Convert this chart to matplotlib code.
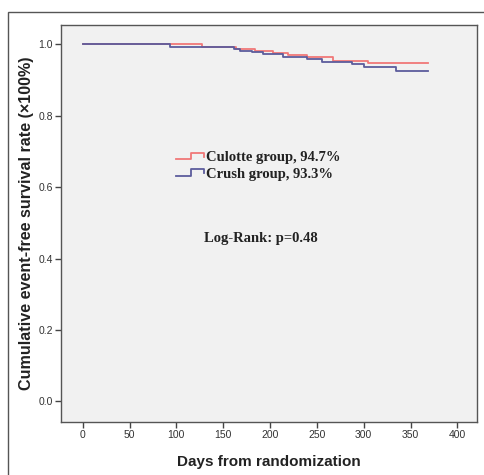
import matplotlib
matplotlib.use("Agg")
import matplotlib.pyplot as plt
from matplotlib.lines import Line2D
from matplotlib.legend_handler import HandlerBase
from matplotlib.patches import Rectangle

# ---- data ----
culotte_days = [0, 127, 164, 173, 184, 203, 219, 240, 267, 305, 369]
culotte_surv = [1.0, 0.994, 0.988, 0.986, 0.982, 0.976, 0.971, 0.965, 0.955, 0.947, 0.947]
crush_days = [0, 93, 161, 168, 181, 193, 214, 240, 255, 287, 300, 334, 369]
crush_surv = [1.0, 0.993, 0.987, 0.983, 0.979, 0.973, 0.966, 0.958, 0.951, 0.944, 0.936, 0.927, 0.927]
series_labels = ["Culotte group, 94.7%", "Crush group, 93.3%"]
x_ticks = [0, 50, 100, 150, 200, 250, 300, 350, 400]
y_ticks = [0.0, 0.2, 0.4, 0.6, 0.8, 1.0]
x_label = "Days from randomization"
y_label = "Cumulative event-free survival rate (\u00d7100%)"
annotation = "Log-Rank: p=0.48"

RED = "#f07878"
BLUE = "#5c5c9c"

W, H = 485, 475
fig = plt.figure(figsize=(W / 100, H / 100), dpi=100)
fig.patch.set_facecolor("white")

# outer frame
fig.patches.append(Rectangle((8 / W, -0.1), 1.2, 1 - 12 / H + 0.1, transform=fig.transFigure,
                             fill=False, edgecolor="#555555", linewidth=1.0))

ax = fig.add_axes([61 / W, 1 - 421.7 / H, (477 - 61) / W, (421.7 - 25) / H])
ax.set_facecolor("#f1f1f1")

ax.step(culotte_days, culotte_surv, where="post", color=RED, lw=1.3, label=series_labels[0])
ax.step(crush_days, crush_surv, where="post", color=BLUE, lw=1.3, label=series_labels[1])

ax.set_xlim(-23.2, 421)
ax.set_ylim(-0.0566, 1.0546)
ax.set_xticks(x_ticks)
ax.set_yticks(y_ticks)
ax.set_yticklabels([f"{v:.1f}" for v in y_ticks])
ax.tick_params(direction="out", length=4, width=1, color="#444444",
               labelsize=7.5, labelcolor="#333333", pad=2)
for sp in ax.spines.values():
    sp.set_color("#555555")
    sp.set_linewidth(1.0)

ax.set_xlabel(x_label, fontsize=11, fontweight="bold", family="Liberation Sans",
              color="#222222", labelpad=11)
ax.set_ylabel(y_label, fontsize=11.6, fontweight="bold", family="Liberation Sans",
              color="#222222", labelpad=3)
for t in ax.get_xticklabels() + ax.get_yticklabels():
    t.set_family("Liberation Sans")


class StepHandler(HandlerBase):
    def create_artists(self, legend, orig_handle, xdescent, ydescent, width, height, fontsize, trans):
        x0 = -xdescent
        y0 = -ydescent
        xs = [x0, x0 + width * 0.55, x0 + width * 0.55, x0 + width, x0 + width]
        ys = [y0 + height * 0.2, y0 + height * 0.2, y0 + height * 0.85, y0 + height * 0.85, y0 + height * 0.45]
        ln = Line2D(xs, ys, color=orig_handle.get_color(), lw=1.3, transform=trans)
        return [ln]


handles = [Line2D([], [], color=RED), Line2D([], [], color=BLUE)]
leg = ax.legend(handles, series_labels, handler_map={Line2D: StepHandler()},
                loc="upper left", bbox_to_anchor=((176 - 61) / 416, (421.7 - 151) / 396.7),
                frameon=False, handlelength=1.9, handletextpad=0.15, labelspacing=0.25,
                borderpad=0, borderaxespad=0,
                prop={"family": "Liberation Serif", "weight": "bold", "size": 10.5})
for t in leg.get_texts():
    t.set_color("#222222")

ax.text((261 - 61) / 416, (421.7 - 239) / 396.7, annotation, transform=ax.transAxes,
        ha="center", va="center", family="Liberation Serif", fontweight="bold",
        fontsize=10.5, color="#222222")

fig.savefig("out.png", dpi=100, facecolor="white")
